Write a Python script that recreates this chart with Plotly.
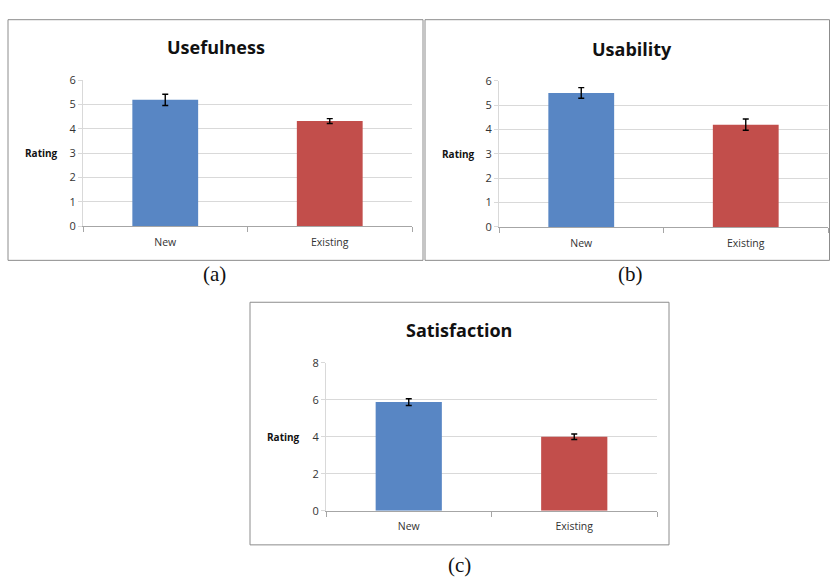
import plotly.graph_objects as go

W, H = 830, 585

categories = ["New", "Existing"]
panel_titles = ["Usefulness", "Usability", "Satisfaction"]
panel_captions = ["(a)", "(b)", "(c)"]
usefulness = [5.19, 4.32]
usefulness_err = [0.23, 0.10]
usability = [5.50, 4.20]
usability_err = [0.22, 0.23]
satisfaction = [5.87, 4.00]
satisfaction_err = [0.18, 0.15]
y_ranges = [[0, 6], [0, 6], [0, 8]]
y_dticks = [1, 1, 2]
bar_colors = ["#5886c4", "#c24e4b"]

values = [usefulness, usability, satisfaction]
errors = [usefulness_err, usability_err, satisfaction_err]

# layout in pixels: plot area (x0, x1, ytop, ybottom), border box, title pos, caption pos, rating label right edge
plot_px = [(83, 412, 74, 224), (499, 828, 74.7, 224.7), (326, 657, 364, 516)]
border_px = [(8, 423, 12, 259), (425, 829.5, 12, 259), (250, 669, 302, 551)]
title_px = [(216, 40), (632, 42), (459, 330)]
caption_px = [(214, 273), (630, 273), (459, 572)]
rating_px = [60, 477, 302]

def px(x):
    return x / W

def py(y):
    return 1 - y / H

fig = go.Figure()
for i in range(3):
    suffix = "" if i == 0 else str(i + 1)
    fig.add_trace(go.Bar(
        x=categories, y=values[i],
        marker=dict(color=bar_colors, line=dict(width=0)),
        width=0.4,
        error_y=dict(type="data", array=errors[i], color="#000000", thickness=1.4, width=3),
        xaxis="x" + suffix, yaxis="y" + suffix,
        showlegend=False,
    ))
    x0, x1, yt, yb = plot_px[i]
    fig.layout["xaxis" + suffix] = dict(
        domain=[px(x0), px(x1)], anchor="y" + suffix,
        tickson="boundaries", ticks="outside", ticklen=5, tickcolor="#a6a6a6",
        showline=True, linecolor="#a6a6a6", linewidth=1,
        tickfont=dict(family="Open Sans", size=10.5, color="#333333"),
        ticklabelstandoff=6, showgrid=False, fixedrange=True,
    )
    fig.layout["yaxis" + suffix] = dict(
        domain=[py(yb), py(yt)], anchor="x" + suffix,
        range=y_ranges[i], dtick=y_dticks[i],
        showgrid=True, gridcolor="#d9d9d9", gridwidth=1,
        showline=True, linecolor="#d9d9d9", linewidth=1,
        ticks="outside", ticklen=4, tickcolor="#d9d9d9",
        tickfont=dict(family="Open Sans", size=11, color="#333333"),
        zeroline=False, fixedrange=True,
    )
    bx0, bx1, by0, by1 = border_px[i]
    fig.add_shape(type="rect", xref="paper", yref="paper",
                  x0=px(bx0), x1=px(bx1), y0=py(by1), y1=py(by0),
                  line=dict(color="#8c8c8c", width=1), fillcolor="rgba(0,0,0,0)")
    fig.add_annotation(text="<b>%s</b>" % panel_titles[i], xref="paper", yref="paper",
                       x=px(title_px[i][0]), y=py(title_px[i][1]),
                       xanchor="center", yanchor="middle", showarrow=False,
                       font=dict(family="Open Sans", size=18, color="#111111"))
    fig.add_annotation(text=panel_captions[i], xref="paper", yref="paper",
                       x=px(caption_px[i][0]), y=py(caption_px[i][1]),
                       xanchor="center", yanchor="middle", showarrow=False,
                       font=dict(family="Liberation Serif", size=21, color="#111111"))
    fig.add_annotation(text="<b>Rating</b>", xref="paper", yref="y" + suffix,
                       x=px(rating_px[i]), y=(y_ranges[i][0] + y_ranges[i][1]) / 2,
                       xanchor="right", yanchor="middle", showarrow=False,
                       font=dict(family="Open Sans", size=10, color="#111111"))

fig.update_layout(
    width=W, height=H,
    margin=dict(l=0, r=0, t=0, b=0),
    paper_bgcolor="white", plot_bgcolor="white",
    bargap=0.6,
)

fig.write_html("out.html",
               config={"displayModeBar": False, "staticPlot": True},
               post_script="document.body.style.margin='0';document.body.style.overflow='hidden';")
